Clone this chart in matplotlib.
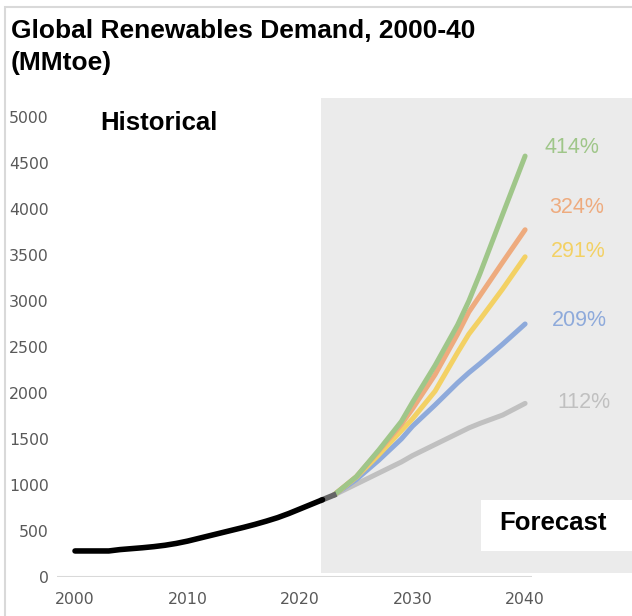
import matplotlib.pyplot as plt
from matplotlib.patches import Rectangle

# historical demand, MMtoe
hist_years = list(range(2000, 2023))
hist_vals = [283, 283, 283, 283, 298, 308, 318, 330, 345, 365, 390, 420,
             450, 480, 510, 540, 572, 607, 645, 690, 740, 790, 840]

# short bridge into the first forecast year
bridge_years = [2022, 2023]
bridge_vals = [840, 890]

# forecast scenarios, MMtoe
fc_years = [2023, 2025, 2027, 2029, 2030, 2032, 2034, 2035, 2036, 2038, 2040]
green = [890, 1090, 1380, 1690, 1900, 2300, 2740, 3000, 3300, 3940, 4575]
orange = [890, 1090, 1370, 1660, 1830, 2200, 2640, 2880, 3060, 3420, 3774]
yellow = [890, 1085, 1330, 1590, 1720, 2020, 2440, 2640, 2800, 3130, 3480]
blue = [890, 1060, 1270, 1500, 1640, 1870, 2110, 2220, 2320, 2530, 2750]
grey = [890, 1010, 1130, 1250, 1320, 1440, 1560, 1620, 1670, 1760, 1887]

pct_labels = ["414%", "324%", "291%", "209%", "112%"]
label_y = [4663, 4020, 3540, 2790, 1900]

colors = ["#9fc689", "#eeab7e", "#f3d164", "#8eaadb", "#c0c0c0"]

fig = plt.figure(figsize=(6.32, 6.16), dpi=100)
W, H = 632, 616

# light frame round the chart
fig.patches.append(Rectangle((5 / W, -0.1), 1.2, (H - 7) / H + 0.1,
                             transform=fig.transFigure, fill=False,
                             edgecolor="#d9d9d9", linewidth=1.5))

ax = fig.add_axes([57 / W, (H - 577) / H, (W - 57) / W, (577 - 98) / H])
ax.set_xlim(1998.4, 2049.5)
ax.set_ylim(0, 5206)
for s in ax.spines.values():
    s.set_visible(False)

# forecast shading
ax.add_patch(Rectangle((2021.9, 43), 2049.5 - 2021.9, 5206 - 43,
                       facecolor="#ebebeb", edgecolor="none", zorder=0))
ax.hlines(0, 1998.4, 2040.6, color="#d9d9d9", linewidth=1.5, zorder=1)

ax.plot(hist_years, hist_vals, color="black", lw=4, solid_capstyle="round",
        solid_joinstyle="round", zorder=5)
ax.plot(bridge_years, bridge_vals, color="#666666", lw=4, zorder=4)

series = [grey, blue, yellow, orange, green]
cols = colors[::-1]
for vals, c in zip(series, cols):
    ax.plot(fc_years, vals, color=c, lw=3.6, solid_capstyle="round",
            solid_joinstyle="round", zorder=3)

label_x = [2044.2, 2044.6, 2044.7, 2044.8, 2045.2]
for txt, x, y, c in zip(pct_labels, label_x, label_y, colors):
    ax.text(x, y, txt, color=c, fontsize=15.5, family="Liberation Sans",
            ha="center", va="center")

ax.set_xticks([2000, 2010, 2020, 2030, 2040])
ax.set_yticks(range(0, 5001, 500))
ax.tick_params(length=0, labelcolor="#595959", labelsize=11.3)
ax.tick_params(axis="y", pad=6)
ax.tick_params(axis="x", pad=11)

ax.text(2002.2, 4933, "Historical", fontsize=18.5, fontweight="bold",
        family="Liberation Sans", va="center", ha="left")

# white box for the forecast tag
fig.patches.append(Rectangle((481 / W, (H - 551) / H), (W - 481) / W, 51 / H,
                             transform=fig.transFigure, facecolor="white",
                             edgecolor="none", zorder=2))
fig.text(553 / W, (H - 523) / H, "Forecast", fontsize=18.5, fontweight="bold",
         family="Liberation Sans", ha="center", va="center", zorder=3)

fig.text(11 / W, (H - 19) / H, "Global Renewables Demand, 2000-40\n(MMtoe)",
         fontsize=19, fontweight="bold", family="Liberation Sans",
         ha="left", va="top", linespacing=1.4)

fig.savefig("out.png", dpi=100)
